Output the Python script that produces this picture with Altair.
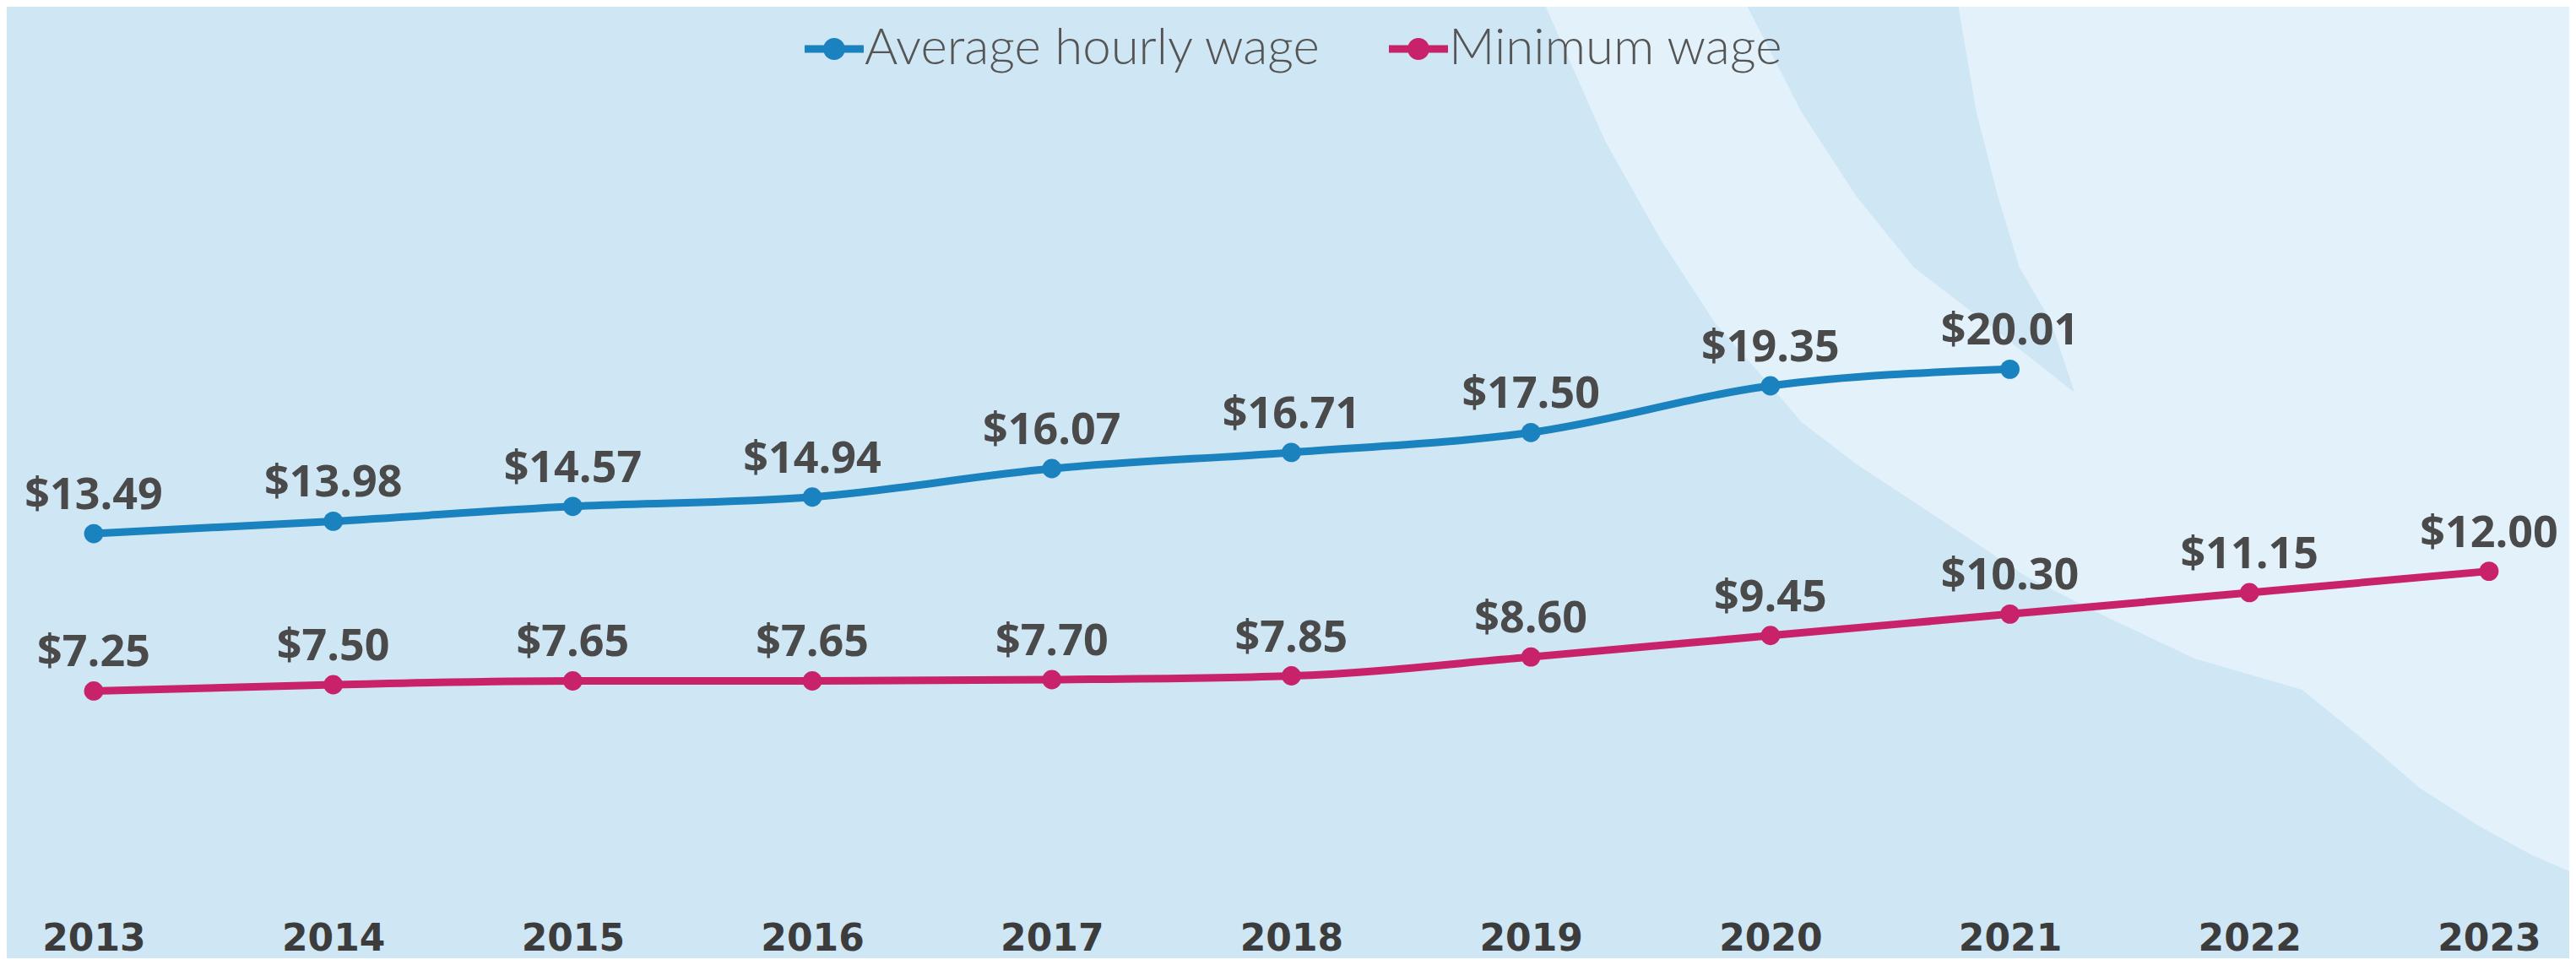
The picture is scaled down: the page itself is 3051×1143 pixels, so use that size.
import altair as alt
import pandas as pd

# ---- chart data ----
years_avg = [2013, 2014, 2015, 2016, 2017, 2018, 2019, 2020, 2021]
avg_wage = [13.49, 13.98, 14.57, 14.94, 16.07, 16.71, 17.50, 19.35, 20.01]
years_min = [2013, 2014, 2015, 2016, 2017, 2018, 2019, 2020, 2021, 2022, 2023]
min_wage = [7.25, 7.50, 7.65, 7.65, 7.70, 7.85, 8.60, 9.45, 10.30, 11.15, 12.00]
series_names = ["Average hourly wage", "Minimum wage"]
series_colors = ["#1a82be", "#c8226a"]
year_ticks = [2013, 2014, 2015, 2016, 2017, 2018, 2019, 2020, 2021, 2022, 2023]

# ---- decorative background outlines (in data units: year, dollars) ----
light_level = [34.65, 29.06, 25.18, 21.83, 19.58, 17.91, 16.24, 13.99, 11.78, 10.11, 8.54,
               7.30, 5.29, 3.41, 1.94, 0.74, 0.0]
light_left = [2019.05, 2019.31, 2019.54, 2019.77, 2019.98, 2020.13, 2020.36, 2020.72, 2021.07,
              2021.42, 2021.77, 2022.22, 2022.48, 2022.71, 2022.95, 2023.18, 2023.36]
crescent_level = [34.65, 30.20, 26.85, 24.04, 21.93, 19.08]
crescent_left = [2019.89, 2020.13, 2020.36, 2020.60, 2020.89, 2021.27]
crescent_right = [2020.78, 2020.86, 2020.95, 2021.04, 2021.17, 2021.27]

BG = "#cfe6f4"
LIGHT = "#e3f1fa"

rows = []
for y, v in zip(years_avg, avg_wage):
    rows.append({"year": y, "wage": v, "series": series_names[0]})
for y, v in zip(years_min, min_wage):
    rows.append({"year": y, "wage": v, "series": series_names[1]})
df = pd.DataFrame(rows)

light_df = pd.DataFrame({"lvl": light_level, "xl": light_left,
                         "xr": [2023.6] * len(light_level)})
cres_df = pd.DataFrame({"lvl": crescent_level, "xl": crescent_left, "xr": crescent_right})

xscale = alt.Scale(domain=[2012.637, 2023.335], nice=False, zero=False)
yscale = alt.Scale(domain=[0, 34.383], nice=False, zero=False)
xaxis = alt.Axis(values=year_ticks, format="d", title=None, ticks=False, tickSize=0,
                 domain=False, grid=False, labelFont="DejaVu Sans", labelFontWeight="bold",
                 labelFontSize=44, labelColor="#3c3c3c", labelPadding=55)

cscale = alt.Scale(domain=series_names, range=series_colors)
legend = alt.Legend(
    orient="none", direction="horizontal", legendX=945, legendY=15, title=None,
    symbolType="M-1,-0.13 L1,-0.13 L1,0.13 L-1,0.13 Z M-0.37,0 A0.37,0.37 0 1,1 0.37,0 A0.37,0.37 0 1,1 -0.37,0 Z",
    symbolSize=4900, symbolStrokeWidth=0, symbolOpacity=1, labelFont="Lato", labelFontSize=60,
    labelFontWeight=300, labelColor="#555555", labelOffset=1, columnPadding=79,
    padding=0, labelLimit=0,
)

bg_light = alt.Chart(light_df).mark_area(orient="horizontal", clip=True, color=LIGHT).encode(
    y=alt.Y("lvl:Q", scale=yscale, axis=None),
    x=alt.X("xl:Q", scale=xscale, axis=xaxis, stack=None),
    x2="xr:Q",
)
bg_cres = alt.Chart(cres_df).mark_area(orient="horizontal", clip=True, color=BG).encode(
    y=alt.Y("lvl:Q", scale=yscale, axis=None),
    x=alt.X("xl:Q", scale=xscale, axis=xaxis, stack=None),
    x2="xr:Q",
)

base = alt.Chart(df).encode(
    x=alt.X("year:Q", scale=xscale, axis=xaxis),
    y=alt.Y("wage:Q", scale=yscale, axis=None),
)
color = alt.Color("series:N", scale=cscale, legend=legend)
lines = base.mark_line(strokeWidth=9, interpolate="monotone").encode(color=color)
points = base.mark_circle(size=520, opacity=1).encode(color=color)
labels = base.mark_text(font="Open Sans", fontWeight="bold", fontSize=52, color="#4a4a4a",
                        baseline="alphabetic", align="center", dy=-29).encode(
    text=alt.Text("wage:Q", format="$.2f")
)

chart = alt.layer(bg_light, bg_cres, lines, points, labels).properties(
    width=3035, height=1027,
    autosize=alt.AutoSizeParams(type="none"),
    padding={"left": 0, "top": 0, "right": 0, "bottom": 100},
    background=BG,
).configure_view(stroke=None)

chart.save("out.html", embed_options={"renderer": "svg", "actions": False})
